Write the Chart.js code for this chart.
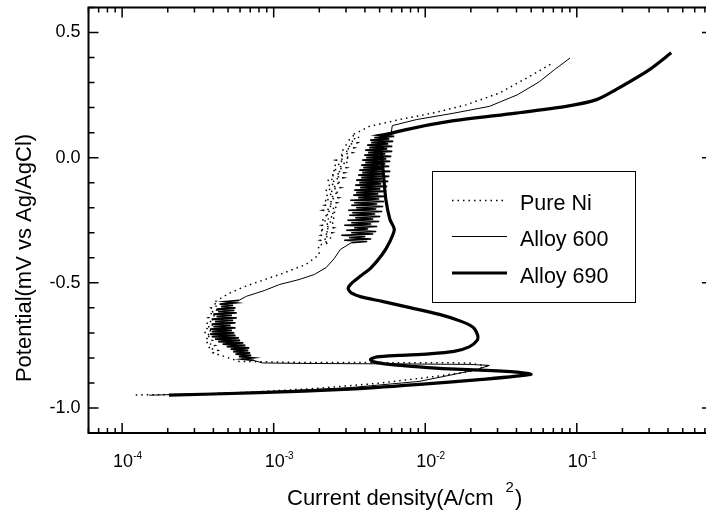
<!DOCTYPE html>
<html>
<head>
<meta charset="utf-8">
<title>Polarization curves</title>
<script src="https://cdn.jsdelivr.net/npm/chart.js@4.4.1/dist/chart.umd.min.js"></script>
<style>
    html, body { margin: 0; padding: 0; overflow: hidden; background: #fff; }
</style>
</head>
<body>
<canvas id="polChart" width="722" height="518"></canvas>
<script>
const FONT = "'Liberation Sans', Arial, sans-serif";

// axis ranges and labels
const X_MIN = 6e-5;
const X_MAX = 0.78;
const Y_MIN = -1.1;
const Y_MAX = 0.6;
const X_DECADES = [-4, -3, -2, -1];          // labelled as 10^n
const Y_LABELS = [0.5, 0.0, -0.5, -1.0];
const X_TITLE = "Current density(A/cm";
const X_TITLE_SUP = "2";
const Y_TITLE = "Potential(mV vs Ag/AgCl)";
const SERIES_NAMES = ["Pure Ni", "Alloy 600", "Alloy 690"];

// Pure Ni: current density (A/cm2) and potential
const pureNiI = [
    1.23e-4, 3.22e-4, 8.0e-4, 2.0e-3, 4.97e-3, 1.24e-2, 2.04e-2, 2.53e-2, 1.95e-2, 6.74e-3, 1.47e-3, 5.92e-4, 4.93e-4,
    4.50e-4, 3.99e-4, 4.30e-4, 3.70e-4, 4.11e-4, 3.59e-4, 3.93e-4, 3.54e-4, 3.87e-4, 3.48e-4, 3.87e-4,
    3.54e-4, 3.99e-4, 3.59e-4, 4.05e-4, 3.70e-4, 4.11e-4, 3.76e-4, 4.24e-4, 3.87e-4, 4.30e-4, 3.99e-4,
    5.08e-4, 6.55e-4, 1.09e-3, 1.63e-3, 2.0e-3,
    1.97e-3, 2.32e-3, 2.03e-3, 2.40e-3, 2.06e-3, 2.43e-3, 2.00e-3, 2.47e-3,
    2.09e-3, 2.51e-3, 2.06e-3, 2.55e-3, 2.15e-3, 2.59e-3, 2.12e-3, 2.63e-3,
    2.19e-3, 2.59e-3, 2.15e-3, 2.67e-3, 2.22e-3, 2.71e-3, 2.19e-3, 2.75e-3,
    2.29e-3, 2.79e-3, 2.26e-3, 2.88e-3, 2.36e-3, 2.92e-3, 2.43e-3, 3.01e-3,
    2.51e-3, 3.10e-3, 2.59e-3, 3.20e-3, 2.71e-3, 3.30e-3, 2.83e-3, 3.40e-3,
    2.96e-3, 3.56e-3, 3.10e-3, 3.67e-3, 3.25e-3, 3.56e-3,
    4.27e-3, 6.74e-3, 1.12e-2, 1.86e-2, 3.08e-2, 4.86e-2, 7.0e-2,
];
const pureNiE = [
    -0.948, -0.945, -0.935, -0.921, -0.901, -0.872, -0.852, -0.832, -0.820, -0.819, -0.818, -0.814, -0.798,
    -0.79, -0.78, -0.77, -0.76, -0.75, -0.74, -0.73, -0.72, -0.71, -0.70, -0.69,
    -0.68, -0.67, -0.66, -0.65, -0.64, -0.63, -0.62, -0.61, -0.60, -0.59, -0.58,
    -0.542, -0.513, -0.467, -0.427, -0.387,
    -0.35, -0.34, -0.33, -0.32, -0.31, -0.30, -0.29, -0.28,
    -0.27, -0.26, -0.25, -0.24, -0.23, -0.22, -0.21, -0.20,
    -0.19, -0.18, -0.17, -0.16, -0.15, -0.14, -0.13, -0.12,
    -0.11, -0.10, -0.09, -0.08, -0.07, -0.06, -0.05, -0.04,
    -0.03, -0.02, -0.01, 0.00, 0.01, 0.02, 0.03, 0.04,
    0.05, 0.06, 0.07, 0.08, 0.09, 0.10,
    0.125, 0.152, 0.178, 0.211, 0.258, 0.324, 0.380,
];

// Alloy 600
const alloy600I = [
    1.51e-4, 8.0e-4, 3.15e-3, 9.1e-3, 2.16e-2, 2.65e-2, 1.95e-2, 6.7e-3, 1.47e-3, 8.4e-4,
    7.4e-4, 6.2e-4, 7.3e-4, 5.9e-4, 7.1e-4, 5.6e-4, 7.0e-4,
    5.4e-4, 6.8e-4, 5.2e-4, 6.9e-4, 4.9e-4, 6.5e-4, 4.6e-4,
    6.3e-4, 4.3e-4, 6.0e-4, 4.1e-4, 5.9e-4, 3.9e-4, 5.6e-4,
    3.8e-4, 5.5e-4, 3.9e-4, 5.3e-4, 3.8e-4, 5.6e-4, 4.0e-4,
    5.2e-4, 3.9e-4, 5.6e-4, 4.1e-4, 5.4e-4, 3.9e-4, 5.7e-4,
    4.2e-4, 5.3e-4, 4.0e-4, 5.7e-4, 4.3e-4, 5.5e-4, 4.2e-4,
    5.6e-4, 4.5e-4, 5.4e-4, 4.4e-4, 5.6e-4, 4.8e-4, 5.9e-4,
    6.6e-4, 8.66e-4, 1.09e-3, 1.47e-3, 1.85e-3, 2.22e-3, 2.51e-3, 2.75e-3,
    3.25e-3, 4.14e-3, 2.92e-3, 4.40e-3, 3.15e-3, 4.02e-3, 2.79e-3, 4.54e-3,
    3.25e-3, 4.75e-3, 3.01e-3, 4.20e-3, 3.40e-3, 4.82e-3, 2.92e-3, 4.40e-3,
    3.25e-3, 4.97e-3, 3.06e-3, 4.54e-3, 3.45e-3, 5.05e-3, 3.15e-3, 4.68e-3,
    3.30e-3, 5.20e-3, 3.10e-3, 4.75e-3, 3.50e-3, 5.28e-3, 3.25e-3, 4.82e-3,
    3.40e-3, 5.36e-3, 3.20e-3, 4.97e-3, 3.61e-3, 5.45e-3, 3.35e-3, 4.90e-3,
    3.50e-3, 5.53e-3, 3.40e-3, 5.05e-3, 3.72e-3, 5.61e-3, 3.45e-3, 5.12e-3,
    3.67e-3, 5.70e-3, 3.50e-3, 5.20e-3, 3.78e-3, 5.79e-3, 3.61e-3, 5.28e-3,
    3.84e-3, 5.88e-3, 3.67e-3, 5.36e-3, 3.90e-3, 5.79e-3, 3.78e-3, 5.45e-3,
    4.02e-3, 5.88e-3, 3.84e-3, 5.53e-3, 4.08e-3, 5.97e-3, 3.96e-3, 5.45e-3,
    4.20e-3, 6.06e-3, 4.02e-3, 5.61e-3, 4.27e-3, 6.06e-3, 4.14e-3, 5.70e-3,
    4.40e-3, 6.15e-3, 4.33e-3, 5.79e-3, 4.61e-3, 6.24e-3, 4.82e-3, 5.97e-3,
    6.06e-3, 8.72e-3, 1.55e-2, 2.65e-2, 4.05e-2, 5.65e-2, 7.1e-2, 9.02e-2,
];
const alloy600E = [
    -0.949, -0.937, -0.919, -0.894, -0.848, -0.830, -0.826, -0.824, -0.822, -0.820,
    -0.810, -0.805, -0.800, -0.795, -0.790, -0.785, -0.780,
    -0.775, -0.770, -0.765, -0.760, -0.755, -0.750, -0.745,
    -0.740, -0.735, -0.730, -0.725, -0.720, -0.715, -0.710,
    -0.705, -0.700, -0.695, -0.690, -0.685, -0.680, -0.675,
    -0.670, -0.665, -0.660, -0.655, -0.650, -0.645, -0.640,
    -0.635, -0.630, -0.625, -0.620, -0.615, -0.610, -0.605,
    -0.600, -0.595, -0.590, -0.585, -0.580, -0.575, -0.570,
    -0.554, -0.531, -0.507, -0.487, -0.467, -0.439, -0.403, -0.367,
    -0.340, -0.335, -0.330, -0.325, -0.320, -0.315, -0.310, -0.305,
    -0.300, -0.295, -0.290, -0.285, -0.280, -0.275, -0.270, -0.265,
    -0.260, -0.255, -0.250, -0.245, -0.240, -0.235, -0.230, -0.225,
    -0.220, -0.215, -0.210, -0.205, -0.200, -0.195, -0.190, -0.185,
    -0.180, -0.175, -0.170, -0.165, -0.160, -0.155, -0.150, -0.145,
    -0.140, -0.135, -0.130, -0.125, -0.120, -0.115, -0.110, -0.105,
    -0.100, -0.095, -0.090, -0.085, -0.080, -0.075, -0.070, -0.065,
    -0.060, -0.055, -0.050, -0.045, -0.040, -0.035, -0.030, -0.025,
    -0.020, -0.015, -0.010, -0.005, 0.000, 0.005, 0.010, 0.015,
    0.020, 0.025, 0.030, 0.035, 0.040, 0.045, 0.050, 0.055,
    0.060, 0.065, 0.070, 0.075, 0.080, 0.085, 0.090, 0.100,
    0.128, 0.152, 0.178, 0.205, 0.251, 0.303, 0.351, 0.398,
];

// Alloy 690
const alloy690I = [
    2.04e-4, 8.0e-4, 3.15e-3, 8.7e-3, 2.38e-2, 4.98e-2,
    4.17e-2, 2.52e-2, 1.44e-2, 9.1e-3, 5.8e-3, 4.6e-3, 4.35e-3, 4.8e-3, 6.7e-3, 1.06e-2, 1.55e-2,
    1.95e-2, 2.2e-2, 2.22e-2, 2.07e-2, 1.73e-2, 1.24e-2, 7.8e-3, 5.2e-3, 3.78e-3, 3.25e-3,
    3.1e-3, 3.25e-3, 3.78e-3, 4.4e-3, 5.2e-3, 5.8e-3, 6.25e-3, 5.85e-3, 5.5e-3, 5.3e-3, 5.1e-3, 5.05e-3,
    7.5e-3, 1.44e-2, 3.97e-2, 8.5e-2, 0.135, 0.18, 0.30, 0.42,
];
const alloy690E = [
    -0.949, -0.939, -0.925, -0.907, -0.886, -0.866,
    -0.858, -0.850, -0.844, -0.836, -0.826, -0.816, -0.806, -0.796, -0.790, -0.784, -0.774,
    -0.756, -0.730, -0.710, -0.678, -0.654, -0.626, -0.598, -0.574, -0.556, -0.540,
    -0.523, -0.503, -0.471, -0.439, -0.387, -0.339, -0.287, -0.247, -0.168, -0.068, 0.032, 0.080,
    0.112, 0.145, 0.178, 0.205, 0.232, 0.271, 0.351, 0.419,
];

/**
 * Zip a current array and a potential array into scatter points.
 */
function toPoints(currents, potentials) {
    return currents.map((c, i) => ({ x: c, y: potentials[i] }));
}

function isYLabel(v) {
    return Y_LABELS.some((l) => Math.abs(l - v) < 1e-6);
}

// the noisy passive stretches of Alloy 600 are drawn heavier so they read as a dark band
function noisyWidth(ctx) {
    const a = ctx.p0.parsed.y;
    const b = ctx.p1.parsed.y;
    const inBand = (e) => (e > -0.815 && e < -0.565) || (e > -0.345 && e < 0.105);
    return inBand(a) && inBand(b) ? 1.7 : 1;
}

// Frame with inward ticks, superscript x labels, titles and the boxed legend
const origin6Look = {
    id: "origin6Look",
    afterDatasetsDraw(chart) {
        const { ctx, chartArea: a, scales } = chart;
        const x = scales.x;
        const y = scales.y;
        ctx.save();
        ctx.strokeStyle = "#000";
        ctx.lineWidth = 1.5;
        ctx.beginPath();
        y.ticks.forEach((t) => {
            const py = y.getPixelForValue(t.value);
            const len = isYLabel(t.value) ? 10 : 6;
            ctx.moveTo(a.left, py);
            ctx.lineTo(a.left + len, py);
            ctx.moveTo(a.right, py);
            ctx.lineTo(a.right - len, py);
        });
        for (let d = -5; d <= 0; d++) {
            for (let m = 1; m <= 9; m++) {
                const v = m * Math.pow(10, d);
                if (v < X_MIN || v > X_MAX) continue;
                const px = x.getPixelForValue(v);
                const len = m === 1 ? 10 : 5;
                ctx.moveTo(px, a.bottom);
                ctx.lineTo(px, a.bottom - len);
                ctx.moveTo(px, a.top);
                ctx.lineTo(px, a.top + len);
            }
        }
        ctx.stroke();
        ctx.lineWidth = 2;
        ctx.strokeRect(a.left, a.top, a.right - a.left, a.bottom - a.top);

        // x tick labels: 10 with a raised exponent
        ctx.fillStyle = "#000";
        ctx.textBaseline = "alphabetic";
        X_DECADES.forEach((d) => {
            const px = x.getPixelForValue(Math.pow(10, d));
            ctx.font = "18px " + FONT;
            ctx.textAlign = "center";
            ctx.fillText("10", px + 1, 466.5);
            const w = ctx.measureText("10").width;
            ctx.font = "10px " + FONT;
            ctx.textAlign = "left";
            ctx.fillText(String(d), px + 1 + w / 2, 459);
        });

        // x title with superscript
        ctx.font = "22px " + FONT;
        ctx.textAlign = "left";
        ctx.fillText(X_TITLE, 287, 505);
        const tw = ctx.measureText(X_TITLE).width;
        ctx.font = "15px " + FONT;
        ctx.fillText(X_TITLE_SUP, 287 + tw + 12, 492);
        const sw = ctx.measureText(X_TITLE_SUP).width;
        ctx.font = "22px " + FONT;
        ctx.fillText(")", 287 + tw + 12 + sw + 1, 505);

        // y title
        ctx.save();
        ctx.translate(31, 258);
        ctx.rotate(-Math.PI / 2);
        ctx.textAlign = "center";
        ctx.fillText(Y_TITLE, 0, 0);
        ctx.restore();

        // legend box
        ctx.lineWidth = 1;
        ctx.strokeRect(432.5, 171.5, 203, 131);
        const rows = [200.5, 236.5, 273];
        chart.data.datasets.forEach((ds, i) => {
            ctx.save();
            ctx.lineWidth = ds.borderWidth;
            ctx.setLineDash(ds.borderDash || []);
            ctx.beginPath();
            ctx.moveTo(452, rows[i]);
            ctx.lineTo(507, rows[i]);
            ctx.stroke();
            ctx.restore();
            ctx.font = "21.5px " + FONT;
            ctx.textAlign = "left";
            ctx.fillText(ds.label, 520, rows[i] + 9.5);
        });
        ctx.restore();
    },
};

new Chart(document.getElementById("polChart"), {
    type: "scatter",
    data: {
        datasets: [
            {
                label: SERIES_NAMES[0],
                data: toPoints(pureNiI, pureNiE),
                showLine: true,
                borderColor: "#000",
                borderWidth: 1.5,
                borderDash: [1.5, 4],
                pointRadius: 0,
                tension: 0,
            },
            {
                label: SERIES_NAMES[1],
                data: toPoints(alloy600I, alloy600E),
                showLine: true,
                borderColor: "#000",
                borderWidth: 1,
                segment: { borderWidth: noisyWidth },
                pointRadius: 0,
                tension: 0,
            },
            {
                label: SERIES_NAMES[2],
                data: toPoints(alloy690I, alloy690E),
                showLine: true,
                borderColor: "#000",
                borderWidth: 3.2,
                pointRadius: 0,
                tension: 0.25,
            },
        ],
    },
    options: {
        responsive: false,
        animation: false,
        layout: { padding: { top: 7.5, right: 10, left: 0, bottom: 0 } },
        plugins: {
            legend: { display: false },
            tooltip: { enabled: false },
        },
        scales: {
            x: {
                type: "logarithmic",
                min: X_MIN,
                max: X_MAX,
                ticks: { display: false },
                grid: { display: false, drawTicks: false },
                border: { display: false },
                afterFit(s) {
                    s.height = 85;
                    s.paddingLeft = 0;
                    s.paddingRight = 0;
                },
            },
            y: {
                min: Y_MIN,
                max: Y_MAX,
                ticks: {
                    stepSize: 0.1,
                    autoSkip: false,
                    padding: 8,
                    color: "#000",
                    font: { family: FONT, size: 18 },
                    callback: (v) => (isYLabel(v) ? v.toFixed(1) : ""),
                },
                grid: { display: false, drawTicks: false },
                border: { display: false },
                afterFit(s) {
                    s.width = 88.5;
                    s.paddingTop = 0;
                    s.paddingBottom = 0;
                },
            },
        },
    },
    plugins: [origin6Look],
});
</script>
</body>
</html>
